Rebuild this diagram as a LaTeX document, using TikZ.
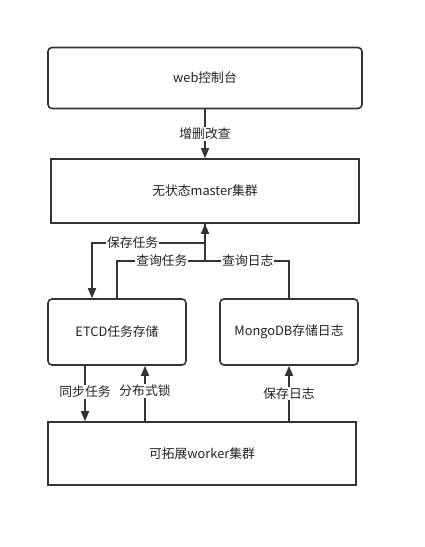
\documentclass[tikz,border=0pt]{standalone}
\usepackage{fontspec}
\setmainfont{Noto Sans CJK SC}
\usetikzlibrary{arrows.meta,calc}
\definecolor{ln}{HTML}{333333}
\definecolor{tx}{HTML}{222222}
\tikzset{
  box/.style={draw=ln,line width=1.6pt,minimum width=#1,inner sep=0pt,font=\fontsize{12.8}{14}\selectfont,text=tx},
  rbox/.style={box=#1,rounded corners=4pt},
  conn/.style={draw=ln,line width=1.6pt,-{Triangle[width=8pt,length=10pt]}},
  plain/.style={draw=ln,line width=1.6pt},
  lbl/.style={fill=white,inner sep=1pt,font=\fontsize{12.8}{14}\selectfont,text=tx}
}
\begin{document}
\begin{tikzpicture}
\useasboundingbox (0,0) rectangle (424pt,-547pt);
\node[rbox=314pt,minimum height=61pt] (web) at (205pt,-78pt) {web控制台};
\node[box=308pt,minimum height=64pt] (master) at (205pt,-191pt) {无状态master集群};
\node[rbox=138pt,minimum height=66pt] (etcd) at (117pt,-332pt) {ETCD任务存储};
\node[rbox=138pt,minimum height=66pt] (mongo) at (289pt,-332pt) {MongoDB存储日志};
\node[box=308pt,minimum height=63pt] (worker) at (202pt,-453.5pt) {可拓展worker集群};
\coordinate (j) at (205pt,-261pt);
\coordinate (s) at (205pt,-243pt);
\coordinate (etin) at ($(etcd.north)+(-25pt,0)$);
\coordinate (etsa) at ($(etcd.south)+(-32pt,0)$);
\coordinate (etsb) at ($(etcd.south)+(28pt,0)$);
% web -> master
\draw[conn] (web.south) -- node[lbl]{增删改查} (master.north);
% master -> etcd
\draw[conn] (master.south) -- (s) -- node[lbl,pos=0.64]{保存任务} (s -| etin) -- (etin);
% etcd -> master, mongo -> master
\draw[plain] (etcd.north) |- node[lbl,pos=0.755]{查询任务} (j);
\draw[plain] (mongo.north) |- node[lbl,pos=0.745]{查询日志} (j);
\draw[conn] (j) -- (master.south);
% etcd -> worker
\draw[conn] (etsa) -- node[lbl,pos=0.47]{同步任务} (etsa |- worker.north);
% worker -> etcd
\draw[conn] (etsb |- worker.north) -- node[lbl,pos=0.55]{分布式锁} (etsb);
% worker -> mongo
\draw[conn] (mongo.south |- worker.north) -- node[lbl,pos=0.5]{保存日志} (mongo.south);
\end{tikzpicture}
\end{document}
